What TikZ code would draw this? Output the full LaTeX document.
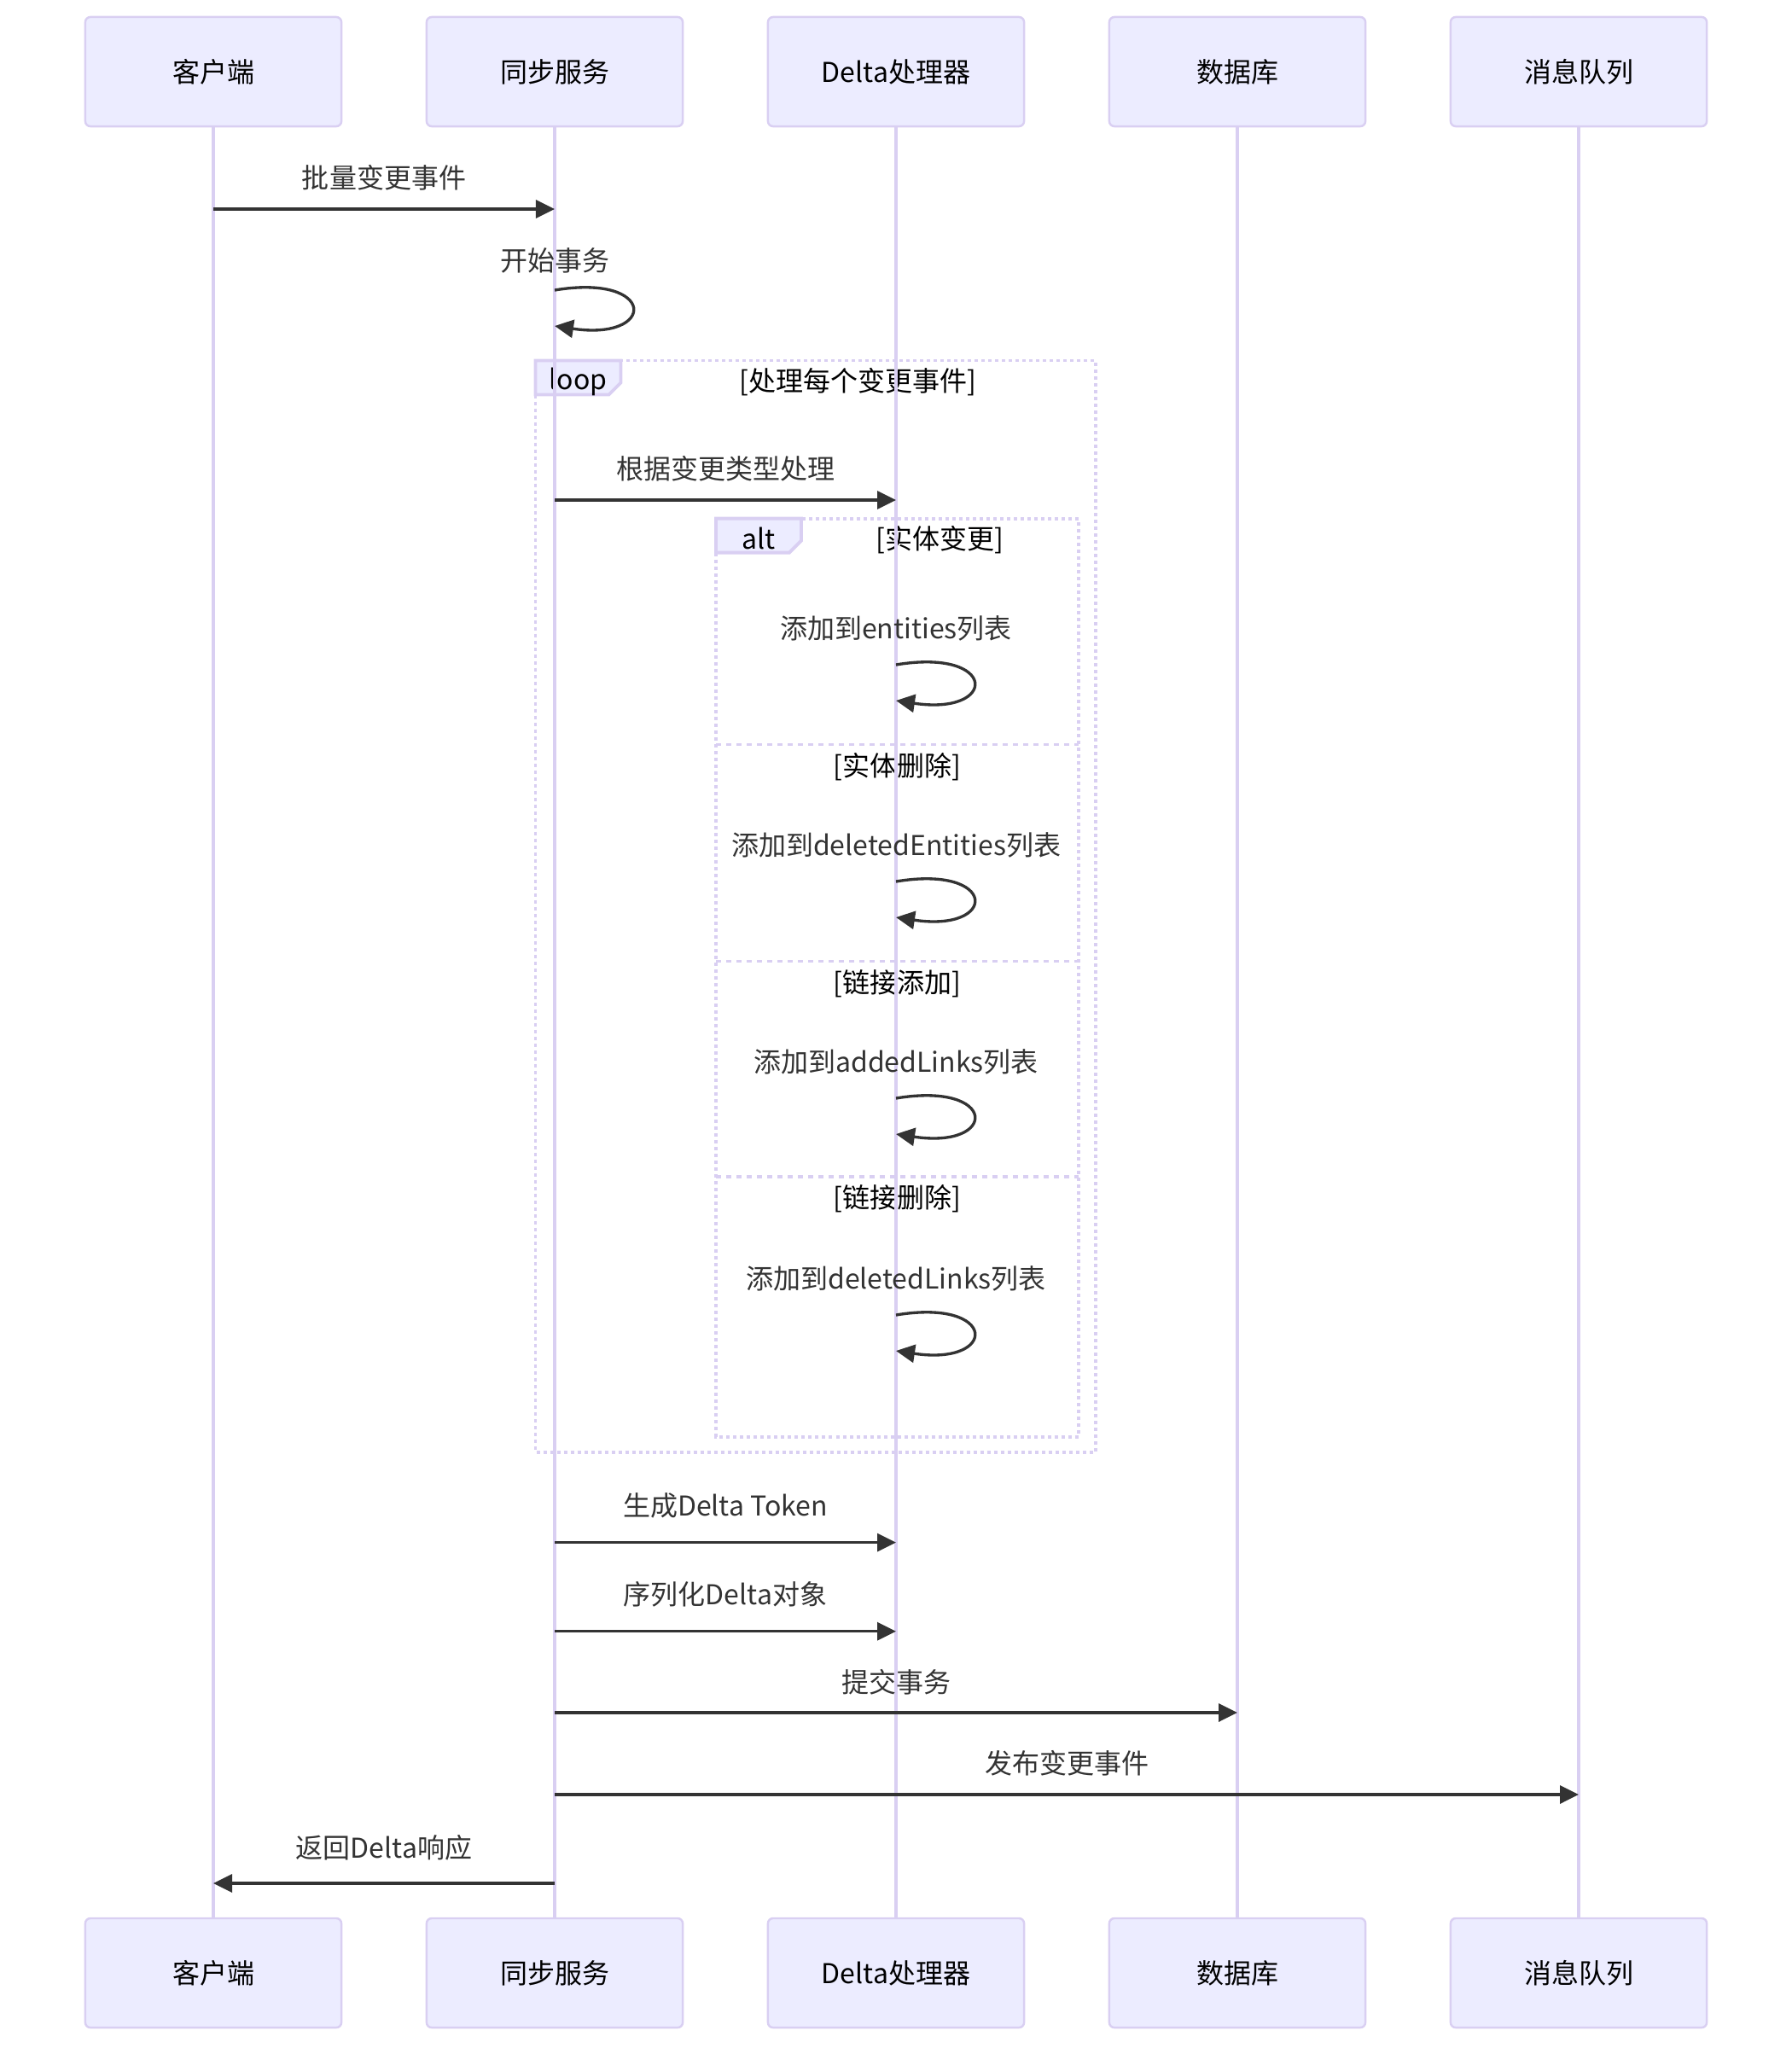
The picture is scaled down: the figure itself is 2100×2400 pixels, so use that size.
\documentclass[tikz,border=0pt]{standalone}
\usepackage{fontspec}
\setmainfont{Noto Sans CJK SC}
\usetikzlibrary{arrows.meta}

\definecolor{actfill}{HTML}{ECECFF}
\definecolor{actline}{HTML}{D9CFF2}
\definecolor{ink}{HTML}{333333}

\begin{document}
\begin{tikzpicture}[x=0.01cm, y=-0.01cm,
    font=\fontsize{9.1}{11}\selectfont,
    actor/.style ={rectangle, draw=actline, fill=actfill, line width=0.7pt, rounded corners=0.06cm,
                   minimum width=3cm, minimum height=1.28cm, inner sep=0pt},
    life/.style ={draw=actline, line width=1.1pt},
    msg/.style ={draw=ink, line width=0.95pt, -{Triangle[length=0.22cm, width=0.21cm]}},
    frame/.style ={draw=actline, line width=1.1pt, dash pattern=on 0.04cm off 0.04cm},
    sep/.style ={draw=actline, line width=1.1pt, dash pattern=on 0.06cm off 0.06cm},
    tag/.style ={draw=actline, fill=actfill, line width=1.1pt},
    lbl/.style ={text=ink, inner sep=0pt}]
   \useasboundingbox (0,0) rectangle (2100,2400);

   \node[actor] (A) at (250,84)  {客户端};
   \node[actor] (B) at (650,84)  {同步服务};
   \node[actor] (C) at (1050,84) {Delta处理器};
   \node[actor] (D) at (1450,84) {数据库};
   \node[actor] (E) at (1850,84) {消息队列};

   \node[actor] (A2) at (250,2312)  {客户端};
   \node[actor] (B2) at (650,2312)  {同步服务};
   \node[actor] (C2) at (1050,2312) {Delta处理器};
   \node[actor] (D2) at (1450,2312) {数据库};
   \node[actor] (E2) at (1850,2312) {消息队列};

   % loop frame
   \draw[frame] (627.5,422.5) rectangle (1284,1702);
   \draw[tag] (627.5,422.5) -- (727.5,422.5) -- (727.5,448.5) -- (713.5,462.5) -- (627.5,462.5) -- cycle;
   \node (loop) at (677.5,447) {loop};
   \node (each) at (1005.7,448) {[处理每个变更事件]};

   % alt frame
   \draw[frame] (839,607.6) rectangle (1264,1683.6);
   \draw[tag] (839,607.6) -- (939,607.6) -- (939,633.6) -- (925,647.6) -- (839,647.6) -- cycle;
   \node (alt) at (889,631) {alt};
   \node (k1) at (1101.5,633) {[实体变更]};
   \draw[sep] (839,872.5) -- (1264,872.5);
   \node (k2) at (1051.5,898.5) {[实体删除]};
   \draw[sep] (839,1126.5) -- (1264,1126.5);
   \node (k3) at (1051.5,1152.5) {[链接添加]};
   \draw[sep] (839,1379) -- (1264,1379);
   \node (k4) at (1051.5,1405) {[链接删除]};

   \draw[life] (A) -- (A2);
   \draw[life] (B) -- (B2);
   \draw[life] (C) -- (C2);
   \draw[life] (D) -- (D2);
   \draw[life] (E) -- (E2);

   \draw[msg] (A |- 0,245) -- node[lbl, yshift=0.37cm] (m1) {批量变更事件} (B |- 0,245);

   \draw[msg] (B |- 0,340) .. controls +(120,-20) and +(120,18) .. (B |- 0,382);
   \node[lbl] (m2) at (B |- 0,305) {开始事务};

   \draw[msg] (B |- 0,586) -- node[lbl, yshift=0.365cm] (m3) {根据变更类型处理} (C |- 0,586);

   \foreach \y/\ty/\t in {779/736/添加到entities列表, 1033/990/添加到deletedEntities列表,
                          1287/1244/添加到addedLinks列表, 1541/1498.5/添加到deletedLinks列表} {
      \draw[msg] (C |- 0,\y) .. controls +(120,-20) and +(120,18) .. (C |- 0,\y+42);
      \node[lbl] at (C |- 0,\ty) {\t};
   }

   \draw[msg] (B |- 0,1807.6) -- node[lbl, yshift=0.43cm] (m4) {生成Delta Token} (C |- 0,1807.6);
   \draw[msg] (B |- 0,1911.7) -- node[lbl, yshift=0.43cm] (m5) {序列化Delta对象} (C |- 0,1911.7);
   \draw[msg] (B |- 0,2007) -- node[lbl, yshift=0.36cm] (m6) {提交事务} (D |- 0,2007);
   \draw[msg] (B |- 0,2103) -- node[lbl, yshift=0.37cm] (m7) {发布变更事件} (E |- 0,2103);
   \draw[msg] (B |- 0,2207) -- node[lbl, yshift=0.42cm] (m8) {返回Delta响应} (A |- 0,2207);

 \end{tikzpicture}
\end{document}
